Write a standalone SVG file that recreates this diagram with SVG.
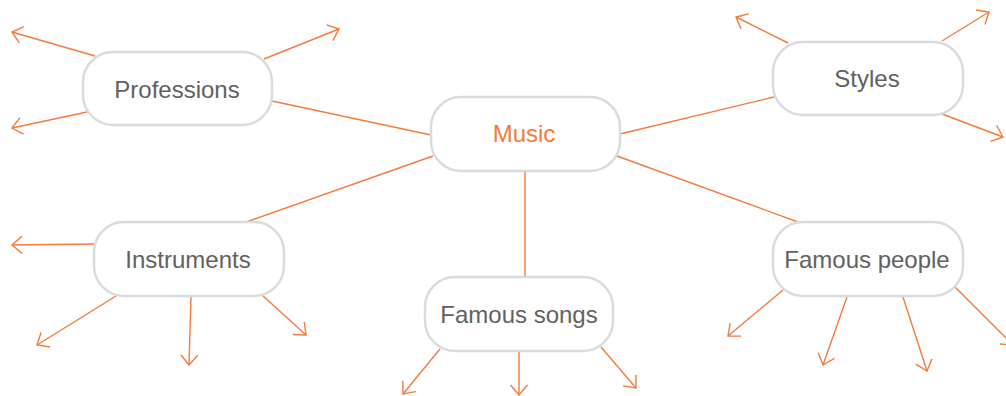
<svg xmlns="http://www.w3.org/2000/svg" width="1006" height="396" viewBox="0 0 1006 396">
<style>
.c{stroke:#F47B3B;stroke-width:1.4;fill:none}
.a{marker-end:url(#ah)}
.n{fill:#fff;stroke:#D8DCDF;stroke-width:2.5}
.t{font-family:"Liberation Sans",Arial,sans-serif;font-size:24px;fill:#616161;text-anchor:middle}
.m{fill:#F47B3B}
</style>
<defs>
<marker id="ah" markerUnits="userSpaceOnUse" orient="auto" markerWidth="16" markerHeight="20" viewBox="-12 -10 14 20" refX="0" refY="0" overflow="visible">
<path d="M-10,-8.5 L0,0 L-10,8.5" fill="none" stroke="#F47B3B" stroke-width="1.4"/>
</marker>
</defs>
<g id="connectors">
<line class="c" x1="272" y1="101" x2="431" y2="135"/>
<line class="c" x1="620" y1="134" x2="774" y2="97"/>
<line class="c" x1="433" y1="156" x2="246" y2="222"/>
<line class="c" x1="525" y1="171" x2="525" y2="277"/>
<line class="c" x1="617" y1="156" x2="798" y2="222"/>
<line class="c a" x1="95" y1="56" x2="12" y2="32"/>
<line class="c a" x1="87" y1="112" x2="12" y2="128"/>
<line class="c a" x1="264" y1="59" x2="339" y2="29"/>
<line class="c a" x1="788" y1="43" x2="736" y2="17"/>
<line class="c a" x1="942" y1="41" x2="989" y2="12"/>
<line class="c a" x1="942" y1="114" x2="1003" y2="137"/>
<line class="c a" x1="94" y1="244" x2="12" y2="245"/>
<line class="c a" x1="116" y1="296" x2="37" y2="345"/>
<line class="c a" x1="191" y1="297" x2="189" y2="365"/>
<line class="c a" x1="262" y1="295" x2="306" y2="335"/>
<line class="c a" x1="440" y1="349" x2="403" y2="394"/>
<line class="c a" x1="519" y1="352" x2="519" y2="395"/>
<line class="c a" x1="601" y1="347" x2="636" y2="388"/>
<line class="c a" x1="783" y1="290" x2="728" y2="336"/>
<line class="c a" x1="847" y1="297" x2="823" y2="365"/>
<line class="c a" x1="903" y1="297" x2="927" y2="371"/>
<line class="c a" x1="955" y1="287" x2="1013" y2="345"/>
</g>
<g id="music"><rect class="n" x="431" y="97" width="189" height="74" rx="30"/><text class="t m" x="524" y="142">Music</text></g>
<g id="professions"><rect class="n" x="83" y="52" width="189" height="73" rx="30"/><text class="t" x="177" y="98">Professions</text></g>
<g id="styles"><rect class="n" x="773" y="42" width="190" height="73" rx="30"/><text class="t" x="867" y="87">Styles</text></g>
<g id="instruments"><rect class="n" x="94" y="222" width="190" height="74" rx="30"/><text class="t" x="188" y="268">Instruments</text></g>
<g id="famous-songs"><rect class="n" x="425" y="277" width="188" height="74" rx="30"/><text class="t" x="519" y="323">Famous songs</text></g>
<g id="famous-people"><rect class="n" x="773" y="222" width="190" height="74" rx="30"/><text class="t" x="867" y="268">Famous people</text></g>
</svg>
